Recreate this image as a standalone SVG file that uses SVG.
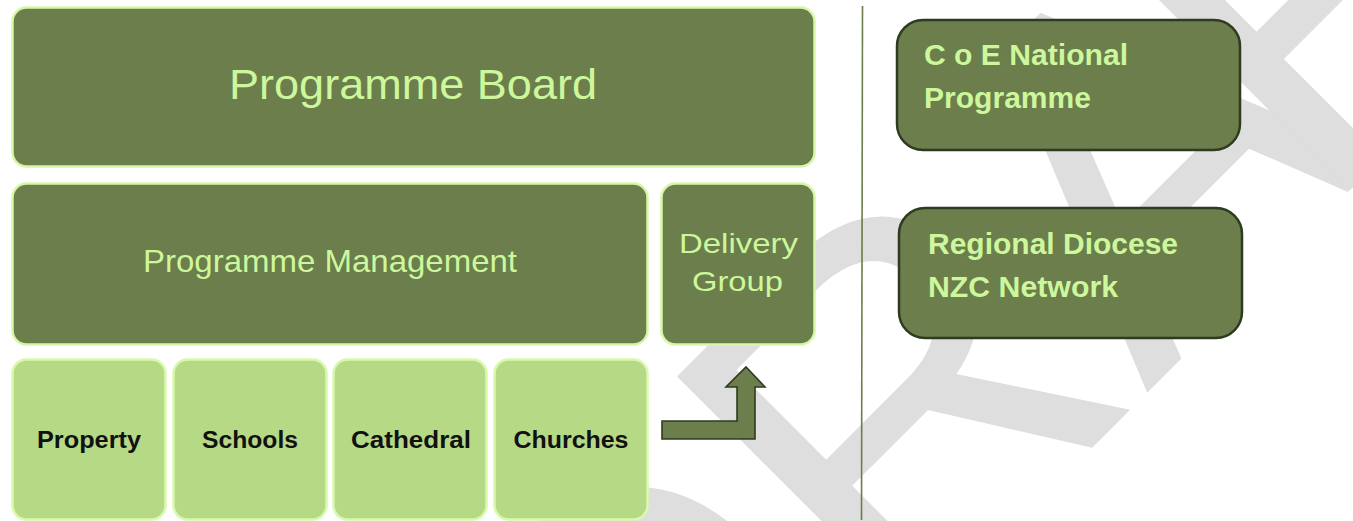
<svg xmlns="http://www.w3.org/2000/svg" width="1353" height="521" viewBox="0 0 1353 521">
  <style>
    .dark { fill: #6b7e4b; stroke: #d6f8a6; stroke-width: 2.5; }
    .light { fill: #b6d986; stroke: #d9f9ac; stroke-width: 2.5; }
    .side { fill: #6b7e4b; stroke: #2e3b20; stroke-width: 2.5; }
    .t-light { fill: #cdf79c; font-family: "Liberation Sans", Arial, sans-serif; }
    .t-bold-light { fill: #cdf79c; font-family: "Liberation Sans", Arial, sans-serif; font-weight: bold; font-size: 29px; }
    .t-dark { fill: #111111; font-family: "Liberation Sans", Arial, sans-serif; font-weight: bold; font-size: 23px; }
    .watermark { fill: #dedede; font-family: "Liberation Sans", Arial, sans-serif; font-size: 500px; }
  </style>

  <rect width="1353" height="521" fill="#ffffff"/>

  <!-- background watermark, set along a rising diagonal -->
  <text class="watermark" x="0 361 722 968 1273" y="0" transform="translate(636 904) rotate(-45)">DRAFT</text>

  <!-- left structure -->
  <g id="programme-board">
    <rect class="dark" x="12.5" y="7.5" width="802" height="159" rx="14"/>
    <text class="t-light" x="413" y="99" font-size="43" text-anchor="middle" textLength="368" lengthAdjust="spacingAndGlyphs">Programme Board</text>
  </g>

  <g id="programme-management">
    <rect class="dark" x="12.5" y="183.5" width="635" height="161" rx="14"/>
    <text class="t-light" x="330" y="272" font-size="32" text-anchor="middle" textLength="374" lengthAdjust="spacingAndGlyphs">Programme Management</text>
  </g>

  <g id="delivery-group">
    <rect class="dark" x="661.5" y="183.5" width="153" height="161" rx="14"/>
    <text class="t-light" x="738.5" y="253" font-size="28" text-anchor="middle" textLength="119" lengthAdjust="spacingAndGlyphs">Delivery</text>
    <text class="t-light" x="737.5" y="291" font-size="28" text-anchor="middle" textLength="91" lengthAdjust="spacingAndGlyphs">Group</text>
  </g>

  <g id="property">
    <rect class="light" x="12.5" y="359.5" width="153" height="160" rx="14"/>
    <text class="t-dark" x="89" y="448" text-anchor="middle" textLength="104" lengthAdjust="spacingAndGlyphs">Property</text>
  </g>

  <g id="schools">
    <rect class="light" x="173.5" y="359.5" width="153" height="160" rx="14"/>
    <text class="t-dark" x="250" y="448" text-anchor="middle" textLength="96" lengthAdjust="spacingAndGlyphs">Schools</text>
  </g>

  <g id="cathedral">
    <rect class="light" x="333.5" y="359.5" width="153" height="160" rx="14"/>
    <text class="t-dark" x="411" y="448" text-anchor="middle" textLength="120" lengthAdjust="spacingAndGlyphs">Cathedral</text>
  </g>

  <g id="churches">
    <rect class="light" x="494.5" y="359.5" width="153" height="160" rx="14"/>
    <text class="t-dark" x="571" y="448" text-anchor="middle" textLength="115" lengthAdjust="spacingAndGlyphs">Churches</text>
  </g>

  <!-- right column -->
  <g id="coe-national-programme">
    <rect class="side" x="897" y="20" width="343" height="130" rx="26"/>
    <text class="t-bold-light" x="924" y="65" textLength="204" lengthAdjust="spacingAndGlyphs">C o E National</text>
    <text class="t-bold-light" x="924" y="108" textLength="167" lengthAdjust="spacingAndGlyphs">Programme</text>
  </g>

  <g id="regional-diocese">
    <rect class="side" x="899" y="208" width="343" height="130" rx="26"/>
    <text class="t-bold-light" x="928" y="254" textLength="250" lengthAdjust="spacingAndGlyphs">Regional Diocese</text>
    <text class="t-bold-light" x="928" y="297" textLength="190" lengthAdjust="spacingAndGlyphs">NZC Network</text>
  </g>

  <!-- connectors -->
  <g id="connectors">
    <line x1="862.5" y1="6" x2="861.5" y2="520" stroke="#6b7e4b" stroke-width="1.6"/>
    <path d="M662 421 H737 V387 H726 L746 367 L765 387 H755 V439 H662 Z" fill="#6b7e4b" stroke="#2e3b20" stroke-width="1.6" stroke-linejoin="miter"/>
  </g>
</svg>
